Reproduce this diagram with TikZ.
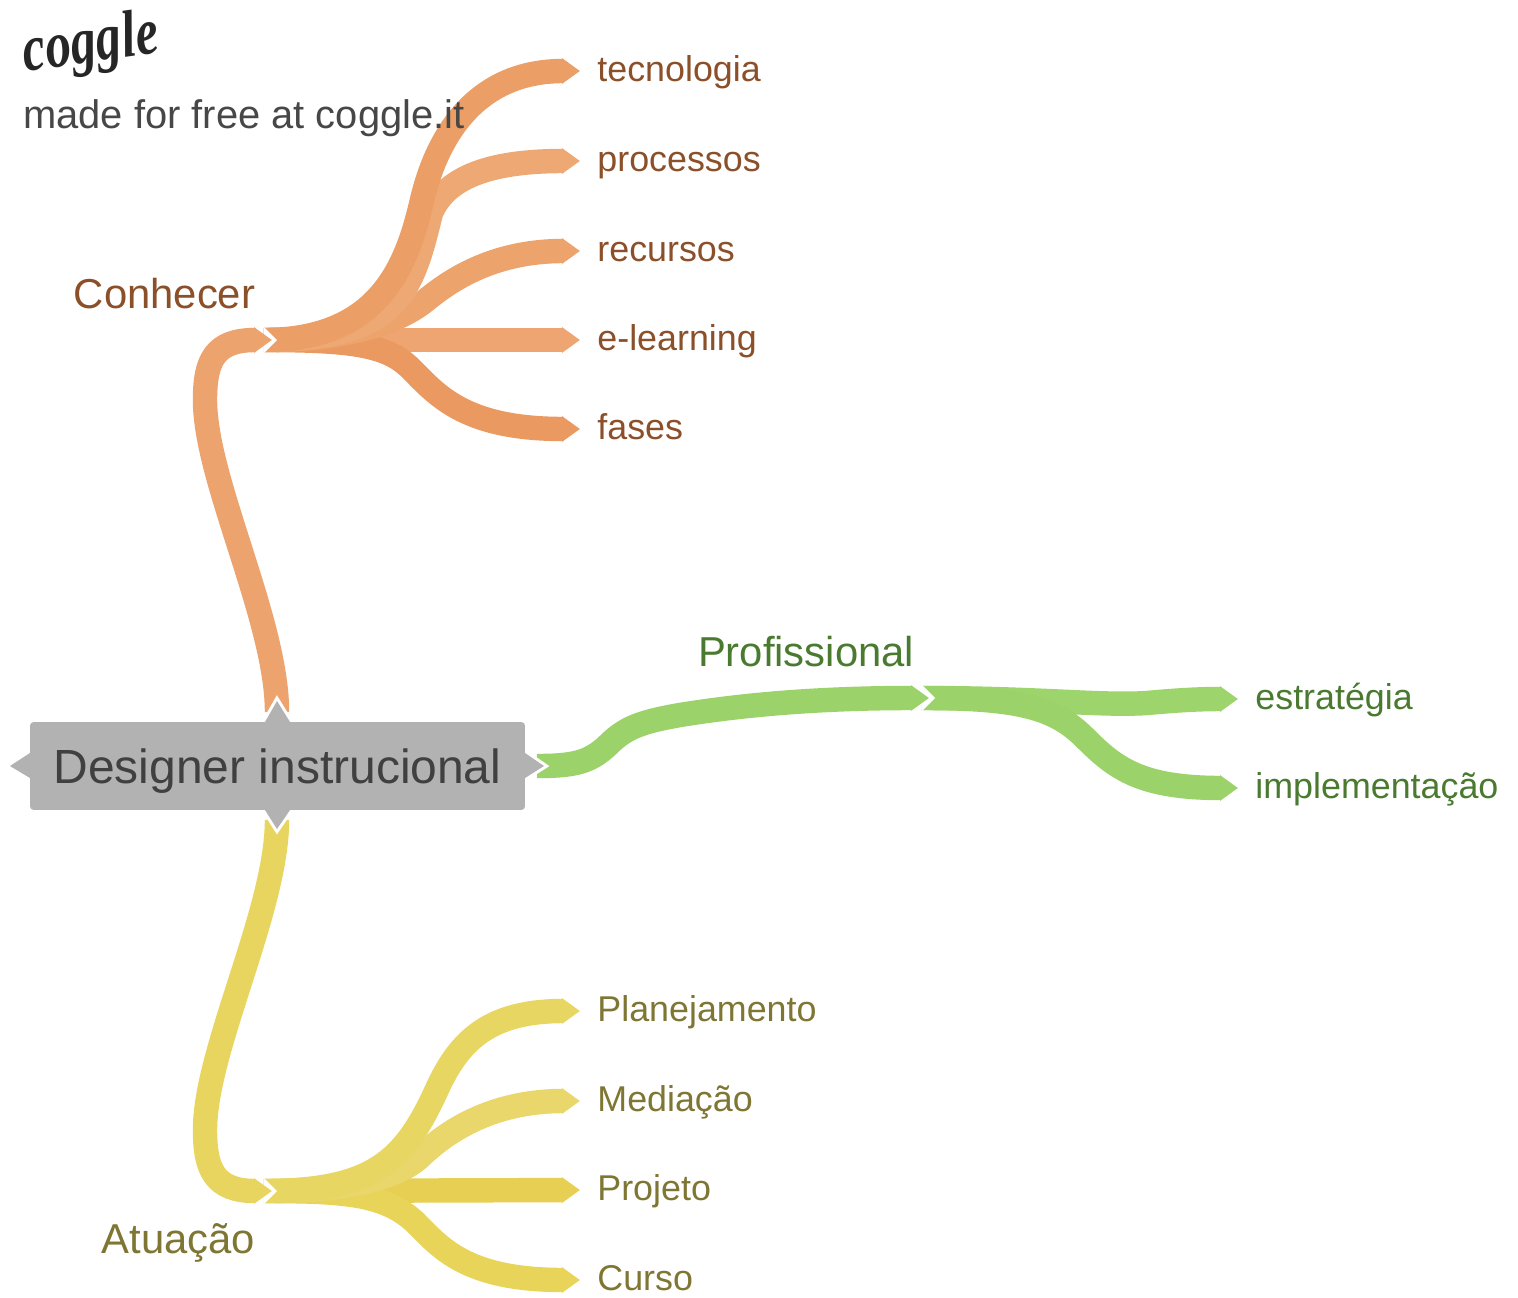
\documentclass[tikz,border=0pt]{standalone}
\usepackage{fontspec}
\setmainfont{Liberation Sans}
\usetikzlibrary{arrows.meta,backgrounds}
\definecolor{orangetext}{HTML}{8B5029}
\definecolor{yellowtext}{HTML}{7F7634}
\definecolor{greentext}{HTML}{4A7A30}
\definecolor{rootgray}{HTML}{B2B2B2}
\definecolor{ormain}{HTML}{EDA36E}
\definecolor{ortecno}{HTML}{EB9F66}
\definecolor{orproc}{HTML}{EDA873}
\definecolor{orrecu}{HTML}{EDA36C}
\definecolor{orlearn}{HTML}{EEA571}
\definecolor{orfases}{HTML}{EA9A60}
\definecolor{yemain}{HTML}{E8D55F}
\definecolor{yeplan}{HTML}{E8D662}
\definecolor{yemedi}{HTML}{E9D76C}
\definecolor{yeproj}{HTML}{E6CF52}
\definecolor{yecurso}{HTML}{E9D45A}
\definecolor{grmain}{HTML}{9BD36A}
\definecolor{grestr}{HTML}{9DD46C}
\tikzset{
	ribbon/.style={line width=13.9pt,draw=#1,-{Triangle[length=10.2pt,width=13.9pt]}},
	leaf/.style={anchor=west,inner ysep=0pt,inner xsep=9.7pt,text=#1,text height=15pt,text depth=2.5pt,font=\fontsize{20.4}{24}\selectfont},
	branch/.style={anchor=base east,inner sep=0pt,text=#1,font=\fontsize{23.8}{28}\selectfont},
	roottip/.style={fill=rootgray,preaction={draw=white,line width=3.4pt,miter limit=10}},
}
\begin{document}
\begin{tikzpicture}[x=0.02cm,y=-0.02cm]
		\useasboundingbox (0,0) rectangle (1518,1298);
		%Logo
		\node[rotate=8,inner sep=0pt,text=black!85,font=\fontsize{29}{32}\selectfont\fontspec{Liberation Serif}\bfseries\itshape] (logo) at (91,46) {\scalebox{1}[1.3]{coggle}};
		\node[anchor=base west,inner sep=0pt,text=black!72,font=\fontsize{22.7}{26}\selectfont] (madefor) at (23,128) {made for free at coggle.it};
		
		%Root
		\node[fill=rootgray,rounded corners=2pt,minimum width=281.7pt,minimum height=50pt,inner sep=0pt,text=black!75,text height=25pt,text depth=5.6pt,font=\fontsize{27.3}{32}\selectfont] (root) at (277.5,766) {Designer instrucional};
		
		%Branch labels
		\node[branch=orangetext] (conhecer) at (255.5,308) {Conhecer};
		\node[branch=yellowtext] (atuacao) at (255.5,1253) {Atuação};
		\node[branch=greentext] (profissional) at (914.5,666) {Profissional};
		
		%Leaf labels
		\node[leaf=orangetext] (tecnologia) at (580,71) {tecnologia};
		\node[leaf=orangetext] (processos) at (580,161) {processos};
		\node[leaf=orangetext] (recursos) at (580,251) {recursos};
		\node[leaf=orangetext] (elearning) at (580,340) {e-learning};
		\node[leaf=orangetext] (fases) at (580,429) {fases};
		\node[leaf=greentext] (estrategia) at (1238,699) {estratégia};
		\node[leaf=greentext] (implementacao) at (1238,788) {implementação};
		\node[leaf=yellowtext] (planejamento) at (580,1011) {Planejamento};
		\node[leaf=yellowtext] (mediacao) at (580,1101) {Mediação};
		\node[leaf=yellowtext] (projeto) at (580,1190) {Projeto};
		\node[leaf=yellowtext] (curso) at (580,1280) {Curso};
		
		%Ends of the main ribbons
		\coordinate (ctop) at (277,712);
		\coordinate (cjoin) at (272,340);
		\coordinate (ctail) at (264,340);
		\coordinate (ybot) at (277,820);
		\coordinate (yjoin) at (272,1191);
		\coordinate (ytail) at (264,1191);
		\coordinate (gright) at (537,766);
		\coordinate (gjoin) at (929,698);
		\coordinate (gtail) at (922,698);
		
		\begin{scope}[on background layer]
		%Conhecer
		\draw[ribbon=orlearn] (ctail) -- (elearning.west);
		\draw[ribbon=orfases] (ctail) .. controls (350,340) and (385,345) .. (408,366) .. controls (435,392) and (460,429) .. (fases.west);
		\draw[ribbon=orrecu] (ctail) .. controls (340,340) and (395,325) .. (425,301) .. controls (447,283) and (490,251) .. (recursos.west);
		\draw[ribbon=orproc] (ctail) .. controls (400,340) and (412,290) .. (431,213) .. controls (447,175) and (495,161) .. (processos.west);
		\draw[ribbon=ortecno] (ctail) .. controls (380,340) and (407,265) .. (422,200) .. controls (435,145) and (470,71) .. (tecnologia.west);
		\fill[white] (264,327) -- (277,340) -- (264,353) -- cycle;
		\draw[ribbon=ormain] (ctop) .. controls (277,620) and (205,480) .. (205,400) .. controls (205,360) and (215,340) .. (cjoin);
		
		%Atuacao
		\draw[ribbon=yeproj] (ytail) -- (projeto.west);
		\draw[ribbon=yecurso] (ytail) .. controls (350,1191) and (385,1195) .. (415,1222) .. controls (440,1247) and (465,1280) .. (curso.west);
		\draw[ribbon=yemedi] (ytail) .. controls (340,1191) and (395,1180) .. (420,1157) .. controls (445,1133) and (490,1101) .. (mediacao.west);
		\draw[ribbon=yeplan] (ytail) .. controls (375,1191) and (405,1160) .. (438,1087) .. controls (460,1040) and (490,1011) .. (planejamento.west);
		\fill[white] (264,1178) -- (277,1191) -- (264,1204) -- cycle;
		\draw[ribbon=yemain] (ybot) .. controls (277,910) and (205,1050) .. (205,1130) .. controls (205,1170) and (215,1191) .. (yjoin);
		
		%Profissional
		\draw[ribbon=grestr] (gtail) .. controls (1040,698) and (1100,706) .. (1147,703) .. controls (1180,700) and (1200,699) .. (estrategia.west);
		\draw[ribbon=grmain] (gtail) .. controls (1020,698) and (1055,708) .. (1085,738) .. controls (1115,768) and (1140,788) .. (implementacao.west);
		\fill[white] (922,685) -- (935,698) -- (922,711) -- cycle;
		\draw[ribbon=grmain] (gright) .. controls (575,766) and (590,762) .. (608,745) .. controls (625,728) and (640,722) .. (680,715) .. controls (760,702) and (840,698) .. (gjoin);
		
		%Tips of the root
		\fill[roottip] (265,722) -- (277,701) -- (290,722) -- cycle;
		\fill[roottip] (265,810) -- (277,829) -- (290,810) -- cycle;
		\fill[roottip] (525,753) -- (544,766) -- (525,778) -- cycle;
		\fill[roottip] (30,753) -- (10,766) -- (30,778) -- cycle;
		\end{scope}
		
		\end{tikzpicture}
\end{document}
